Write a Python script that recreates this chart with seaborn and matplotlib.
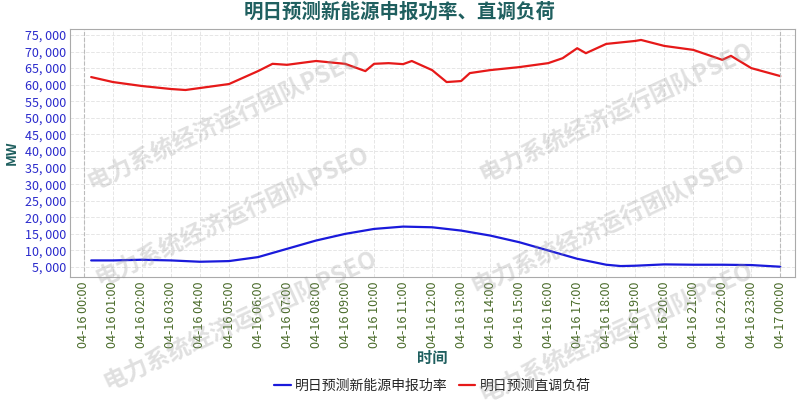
import matplotlib
matplotlib.use("Agg")
import matplotlib.pyplot as plt
import seaborn as sns
import pandas as pd

sns.set_theme(style="white")
plt.rcParams['font.family'] = ['Noto Sans CJK SC', 'DejaVu Sans']

load_h = [0.25,1,2,3,3.5,4,5,6,6.5,7,8,9,9.7,10,10.5,11,11.3,12,12.5,13,13.3,14,15,16,16.5,17,17.3,18,19,19.2,20,21,22,22.3,23,24]
load_v = [62300,60800,59600,58700,58400,59000,60200,64100,66300,66000,67150,66300,64100,66300,66500,66200,67150,64400,60800,61100,63500,64400,65300,66500,68000,71000,69500,72300,73200,73500,71700,70500,67500,68700,65000,62600]
new_h = [0.25,1,2,3,4,5,6,7,8,9,10,11,12,13,14,15,16,17,18,18.5,19,20,21,22,23,24]
new_v = [7000,7000,7200,7000,6600,6800,8000,10500,13000,15000,16500,17200,17000,16000,14500,12500,10000,7500,5700,5300,5400,5800,5700,5700,5600,5100]
xticks = [f"04-16 {h:02d}:00" for h in range(24)] + ["04-17 00:00"]
yticks = list(range(5000, 75001, 5000))

fig = plt.figure(figsize=(8, 4), dpi=100)
ax = fig.add_axes([0.0875, 0.3075, 0.906, 0.62])
sns.lineplot(x=new_h, y=new_v, ax=ax, color="#1a1adb", lw=1.6, label="明日预测新能源申报功率")
sns.lineplot(x=load_h, y=load_v, ax=ax, color="#e61919", lw=1.6, label="明日预测直调负荷")
ax.set_xlim(-0.48, 24.5)
ax.set_ylim(2000, 76800)
ax.set_xticks(range(25))
ax.set_xticklabels(xticks, rotation=90, color="#4a6b2a", fontsize=9)
ax.set_yticks(yticks)
ax.set_yticklabels([f"{v:,}".replace(",", ", ") for v in yticks], color="#2a2acc", fontsize=9)
ax.tick_params(length=0, pad=3)
ax.grid(True, color="#e6e6e6", lw=0.7, ls="--")
for x in (0, 24):
    ax.axvline(x, color="#bbbbbb", lw=0.8, ls="--")
for s in ax.spines.values():
    s.set_color("#aaaaaa"); s.set_linewidth(0.8)
ax.set_ylabel("MW", color="#1f5f5f", fontsize=10, fontweight="bold")
ax.set_xlabel("时间", color="#1f5f5f", fontsize=11, fontweight="bold", labelpad=2)
fig.suptitle("明日预测新能源申报功率、直调负荷", color="#1f5f5f", fontsize=14, fontweight="bold", y=0.995)
ax.legend(loc="center", bbox_to_anchor=(0.5, -0.44), ncol=2, frameon=False, fontsize=10,
          handlelength=1.2, columnspacing=0.8, handletextpad=0.3, borderaxespad=0)
for (x, y) in [(0.28, 0.70), (0.77, 0.72), (0.29, 0.46), (0.76, 0.44), (0.3, 0.2), (0.77, 0.17)]:
    fig.text(x, y, "电力系统经济运行团队PSEO", rotation=25, fontsize=17, color="#999999", alpha=0.3,
             ha="center", va="center", fontweight="bold")
fig.savefig("out.png", dpi=100)
